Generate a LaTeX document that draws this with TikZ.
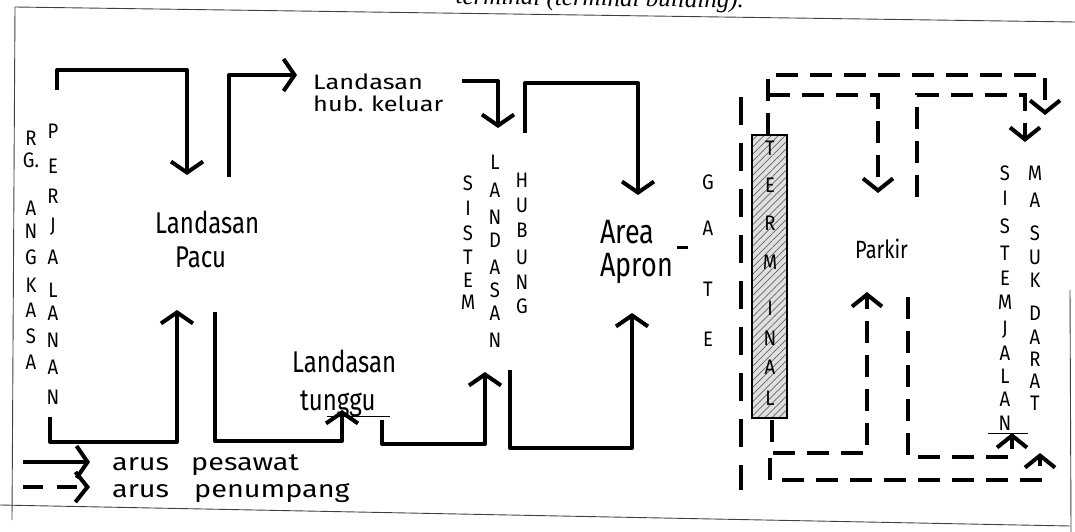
\documentclass[tikz,border=0pt]{standalone}
\usepackage{fontspec}
\usepackage{graphicx}
\setmainfont{Liberation Serif}
\newfontfamily\handfont{Fira Sans}
\usetikzlibrary{arrows.meta,patterns.meta,calc}
\newcommand\hwl[1]{\scalebox{0.88}[1]{#1}}
\newcommand\hwd[1]{\scalebox{1}[1.25]{#1}}
\newcommand\hwn[1]{\scalebox{1.15}[0.95]{#1}}
\newcommand\hwg[1]{\scalebox{1.2}[1]{#1}}
\tikzset{
  flowline/.style={line width=4pt, line join=round},
  flow/.style={flowline, -{Straight Barb[length=11pt,width=32pt]}},
  paxline/.style={line width=4pt, dash pattern=on 22pt off 12pt},
  pax/.style={paxline, -{Straight Barb[length=12pt,width=30pt]}},
  vlet/.style={font=\handfont\fontsize{21}{21}\selectfont, inner sep=0pt},
  word/.style={font=\handfont\fontsize{24}{24}\selectfont, inner sep=0pt, anchor=base west},
  frameline/.style={line width=0.9pt, black!75},
  uline/.style={line width=1pt}
}
\begin{document}
\begin{tikzpicture}[x=1pt,y=-1pt]
\useasboundingbox (0,0) rectangle (1075,532);

% frame and header
\coordinate (ftl) at (15,7);
\coordinate (ftr) at (1075,22);
\coordinate (fbl) at (0,505);
\coordinate (fbr) at (1070,526);
\draw[frameline] (ftl) -- (ftr);
\draw[frameline] (ftl) -- (12,520);
\draw[frameline] (fbl) -- (fbr);
\draw[frameline] (1070,290) -- (1071,532);
\node[anchor=base east, inner sep=0pt, rotate=-0.8, font=\itshape\fontsize{25}{25}\selectfont] (hdr) at (744,8) {terminal (terminal building).};

% ---------- left column texts ----------
\foreach \l/\y [count=\i] in {R/138,G./160,A/208,N/231,G/257,K/285,A/310,S/336,A/362}
  \node[vlet] (rg\i) at (31,\y) {\hwl{\l}};
\foreach \l/\y [count=\i] in {P/131,E/166,R/196,J/227,A/257,L/290,A/313,N/340,A/367,N/397}
  \node[vlet] (pj\i) at (53,\y) {\hwl{\l}};

\node[word] (lp1) at (155,233) {\hwd{Landasan}};
\node[word] (lp2) at (175,267) {\hwd{Pacu}};
\node[word, font=\handfont\fontsize{22}{22}\selectfont] (hk1) at (313,90) {\hwn{Landasan}};
\node[word, font=\handfont\fontsize{22}{22}\selectfont] (hk2) at (313,111) {\hwn{hub.\hspace{0.3em}keluar}};
\node[word] (lt1) at (292,372) {\hwd{Landasan}};
\node[word] (lt2) at (300,410) {\hwd{tunggu}};
\draw[uline] (327,416) -- (390,416);

\foreach \l/\y [count=\i] in {S/183,I/208,S/233,T/257,E/280,M/302}
  \node[vlet] (si\i) at (468,\y) {\hwl{\l}};
\foreach \l/\y [count=\i] in {L/162,A/190,N/217,D/240,A/267,S/290,A/313,N/340}
  \node[vlet] (la\i) at (495,\y) {\hwl{\l}};
\foreach \l/\y [count=\i] in {H/180,U/205,B/230,U/257,N/282,G/306}
  \node[vlet] (hu\i) at (522,\y) {\hwl{\l}};

\node[word, font=\handfont\fontsize{27}{27}\selectfont] (ap1) at (600,243) {\hwd{Area}};
\node[word, font=\handfont\fontsize{27}{27}\selectfont] (ap2) at (600,276) {\hwd{Apron}};
\draw[line width=3pt] (677,247) -- (688,247);

\foreach \l/\y [count=\i] in {G/182,A/228,T/289,E/339}
  \node[vlet] (ga\i) at (708,\y) {\hwl{\l}};

% terminal
\draw[line width=1.2pt, preaction={fill=black!12},
      pattern={Lines[angle=45,distance=5pt,line width=0.7pt]}, pattern color=black!60]
  (752,135) rectangle (787,418);
\coordinate (termT) at (768,135);
\coordinate (termB) at (772,420);
\foreach \l/\y [count=\i] in {T/148,E/185,R/223,M/262,I/308,N/338,A/367,L/398}
  \node[vlet] (te\i) at (770,\y) {\hwl{\l}};

\node[word, font=\handfont\fontsize{20}{20}\selectfont] (pk) at (855,258) {\hwd{Parkir}};

\foreach \l/\y [count=\i] in {S/173,I/198,S/226,T/253,E/278,M/302,J/330,A/353,L/376,A/399,N/423}
  \node[vlet] (sj\i) at (1005,\y) {\hwl{\l}};
\draw[uline] (988,433) -- (1028,433);
\foreach \l/\y [count=\i] in {M/173,A/200,S/233,U/257,K/280,D/313,A/337,R/359,A/381,T/403}
  \node[vlet] (md\i) at (1035,\y) {\hwl{\l}};

% ---------- legend ----------
\coordinate (lgA) at (23,462);
\coordinate (lgB) at (90,462);
\coordinate (lgC) at (23,487);
\coordinate (lgD) at (90,487);
\draw[flow] (lgA) -- (lgB);
\draw[pax, dash pattern=on 20pt off 14pt] (lgC) -- (lgD);
\node[word] (lg1) at (112,470) {\hwg{arus}\hspace{22pt}\hwg{pesawat}};
\node[word] (lg2) at (112,497) {\hwg{arus}\hspace{25pt}\hwg{penumpang}};

% ---------- solid flows (aircraft) ----------
\coordinate (s1a) at (57,90);   \coordinate (s1b) at (187,175);
\coordinate (s2a) at (229,177); \coordinate (s2b) at (297,75);
\coordinate (s3a) at (462,81);  \coordinate (s3b) at (498,128);
\coordinate (s4a) at (525,133); \coordinate (s4b) at (638,195);
\coordinate (s5a) at (50,417);  \coordinate (s5b) at (177,310);
\coordinate (s6a) at (215,312); \coordinate (s6b) at (342,410);
\coordinate (s7a) at (382,420); \coordinate (s7b) at (485,372);
\coordinate (s8a) at (510,370); \coordinate (s8b) at (632,313);

\draw[flow] (s1a) -- ++(0,-20) -| (s1b);
\draw[flow] (s2a) |- (s2b);
\draw[flow] (s3a) -| (s3b);
\draw[flow] (s4a) -- ++(0,-50) -| (s4b);
\draw[flow] (s5a) -- ++(0,25) -| (s5b);
\draw[flow] (s6a) -- ++(0,129) -| (s6b);
\draw[flow] (s7a) -- ++(0,24) -| (s7b);
\draw[flow] (s8a) -- ++(0,78) -| (s8b);

% ---------- dashed flows (passengers) ----------
\coordinate (g1) at (741,97);  \coordinate (g2) at (741,490);
\draw[paxline, dash pattern=on 28pt off 18pt] (g1) -- (g2);

\coordinate (d1b) at (1045,115);
\coordinate (d2a) at (768,95);  \coordinate (d2b) at (878,193);
\coordinate (d3a) at (917,197); \coordinate (d3b) at (1025,142);
\coordinate (d4b) at (867,292);
\coordinate (d5a) at (908,297); \coordinate (d5b) at (1012,433);
\coordinate (d6a) at (770,458); \coordinate (d6b) at (1040,453);

\draw[pax] (termT) -- ++(0,-60) -| (d1b);
\draw[pax] (d2a) -| (d2b);
\draw[pax] (d3a) -- ++(0,-102) -| (d3b);
\draw[pax] (termB) -- ++(0,33) -| (d4b);
\draw[pax] (d5a) -- ++(0,160) -| (d5b);
\draw[pax] (d6a) -- ++(0,22) -| (d6b);
\end{tikzpicture}
\end{document}
